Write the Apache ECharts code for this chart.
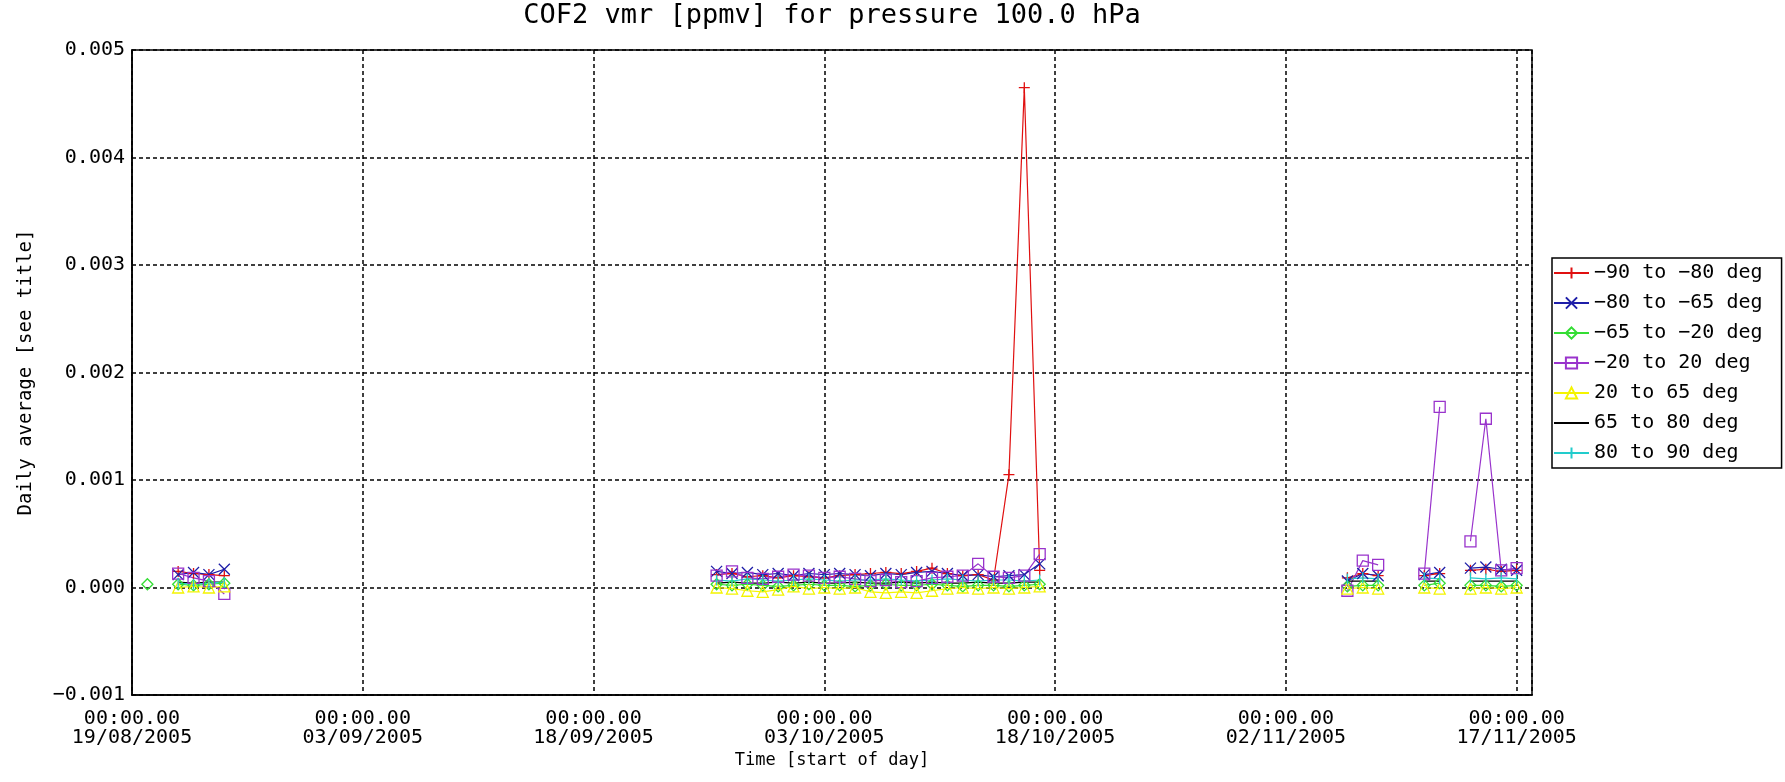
<!DOCTYPE html>
<html>
<head>
<meta charset="utf-8">
<title>COF2 vmr</title>
<script src="https://cdn.jsdelivr.net/npm/echarts@6/dist/echarts.min.js"></script>
<style>
    html, body { margin: 0; padding: 0; background: #fff; }
    #chart { width: 1785px; height: 782px; }
</style>
</head>
<body>
<div id="chart"></div>
<script type="text/javascript">
// days after 19/08/2005 (null columns break the lines between the data blocks)
var days = [1, 2, 3, 4, 5, 6, 7,
    38, 39, 40, 41, 42, 43, 44, 45, 46, 47, 48, 49, 50, 51, 52, 53, 54, 55, 56, 57, 58, 59, 60,
    79, 80, 81, 82, 84, 85, 86, 87, 88, 89, 90];

var tickDates = ['19/08/2005', '03/09/2005', '18/09/2005', '03/10/2005', '18/10/2005', '02/11/2005', '17/11/2005'];

var bandNames = ['−90 to −80 deg', '−80 to −65 deg', '−65 to −20 deg', '−20 to 20 deg', '20 to 65 deg', '65 to 80 deg', '80 to 90 deg'];

var sp90_80 = [null, null, 0.00015, 0.00013, 0.00012, 0.00011, null,
    0.00012, 0.00013, 0.00010, 0.00011, 0.00009, 0.00011, 0.00010, 0.00009, 0.00011, 0.00012, 0.00013,
    0.00014, 0.00013, 0.00015, 0.00018, 0.00013, 0.00011, 0.00012, 0.00007, 0.00105, 0.00465, 0.00016, null,
    0.00009, 0.00013, 0.00011, null, 0.00011, 0.00013, null, 0.00016, 0.00017, 0.00015, 0.00016];
var sp80_65 = [null, null, 0.00012, 0.00014, 0.00012, 0.00017, null,
    0.00015, 0.00013, 0.00014, 0.00012, 0.00013, 0.00011, 0.00013, 0.00012, 0.00013, 0.00012, 0.00011,
    0.00013, 0.00012, 0.00014, 0.00015, 0.00013, 0.00011, 0.00012, 0.00010, 0.00011, 0.00012, 0.00022, null,
    0.00006, 0.00013, 0.00011, null, 0.00012, 0.00014, null, 0.00018, 0.00019, 0.00017, 0.00016];
var sp65_20 = [0.00003, null, 0.00003, 0.00002, 0.00003, 0.00004, null,
    0.00003, 0.00002, 0.00003, 0.00002, 0.00001, 0.00002, 0.00003, 0.00002, 0.00002, 0.00001, 0.00002,
    0.00003, 0.00002, 0.00002, 0.00003, 0.00002, 0.00001, 0.00002, 0.00002, 0.00001, 0.00002, 0.00003, null,
    0.00001, 0.00002, 0.00002, null, 0.00002, 0.00004, null, 0.00002, 0.00002, 0.00001, 0.00002];
var eq20_20 = [null, null, 0.00013, 0.00009, 0.00006, -0.00006, null,
    0.00011, 0.00015, 0.00009, 0.00008, 0.00010, 0.00012, 0.00011, 0.00009, 0.00010, 0.00008, 0.00006,
    0.00007, 0.00005, 0.00006, 0.00009, 0.00010, 0.00011, 0.00022, 0.00010, 0.00009, 0.00011, 0.00031, null,
    -0.00003, 0.00025, 0.00021, null, 0.00013, 0.00168, null, 0.00043, 0.00157, 0.00016, 0.00018];
var np20_65 = [null, null, 0.00000, 0.00001, 0.00000, 0.00001, null,
    0.00000, -0.00001, -0.00003, -0.00004, -0.00002, 0.00001, -0.00001, 0.00000, -0.00001, 0.00000, -0.00004,
    -0.00005, -0.00004, -0.00005, -0.00003, -0.00001, 0.00000, -0.00001, 0.00000, -0.00001, 0.00000, 0.00001, null,
    -0.00001, 0.00000, -0.00001, null, 0.00000, -0.00001, null, -0.00001, 0.00000, -0.00001, 0.00000];
var np65_80 = [null, null, 0.00005, 0.00004, 0.00005, 0.00005, null,
    0.00004, 0.00005, 0.00004, 0.00004, 0.00005, 0.00004, 0.00005, 0.00004, 0.00004, 0.00005, 0.00004,
    0.00004, 0.00005, 0.00004, 0.00005, 0.00004, 0.00004, 0.00005, 0.00004, 0.00004, 0.00005, 0.00005, null,
    0.00006, 0.00006, 0.00006, null, 0.00006, 0.00006, null, 0.00006, 0.00006, 0.00006, 0.00006];
var np80_90 = [null, null, 0.00004, 0.00003, 0.00004, 0.00005, null,
    0.00007, 0.00006, 0.00008, 0.00007, 0.00006, 0.00007, 0.00008, 0.00007, 0.00006, 0.00007, 0.00007,
    0.00008, 0.00007, 0.00006, 0.00007, 0.00008, 0.00007, 0.00006, 0.00007, 0.00007, 0.00006, 0.00007, null,
    0.00008, 0.00009, 0.00008, null, 0.00009, 0.00008, null, 0.00009, 0.00008, 0.00009, 0.00008];

var bandValues = [sp90_80, sp80_65, sp65_20, eq20_20, np20_65, np65_80, np80_90];
var bandColors = ['#e01010', '#1e1ea8', '#33dd33', '#9933cc', '#f4f400', '#000000', '#22cccc'];
var bandSymbols = [
    'path://M5 0L5 10M0 5L10 5',
    'path://M0 0L10 10M10 0L0 10',
    'path://M5 0L10 5L5 10L0 5Z',
    'path://M0 0L10 0L10 10L0 10Z',
    'path://M5 0L10 10L0 10Z',
    'none',
    'path://M5 0L5 10M0 0L0 0.01M10 10L10 9.99'
];

var FONT = 'DejaVu Sans Mono';

var chart = echarts.init(document.getElementById('chart'));

var series = bandNames.map(function (name, k) {
    return {
        name: name,
        type: 'line',
        data: days.map(function (d, i) { return [d, bandValues[k][i]]; }),
        symbol: bandSymbols[k],
        symbolSize: 11,
        showAllSymbol: true,
        connectNulls: false,
        lineStyle: { color: bandColors[k], width: 1.2 },
        itemStyle: { color: 'rgba(0,0,0,0)', borderColor: bandColors[k], borderWidth: 1.3 },
        emphasis: { disabled: true }
    };
});

// the line-only band gets a plain line in the legend
var legendData = bandNames.map(function (name, k) {
    if (bandSymbols[k] === 'none') {
        return { name: name, icon: 'path://M0 7L35 7M0 0L0 0.01M35 14L35 13.99' };
    }
    return name;
});

chart.setOption({
    animation: false,
    backgroundColor: '#fff',
    title: {
        text: 'COF2 vmr [ppmv] for pressure 100.0 hPa',
        left: 832,
        top: 2,
        padding: 0,
        textAlign: 'center',
        textStyle: { fontFamily: FONT, fontSize: 27, fontWeight: 'normal', color: '#000' }
    },
    legend: {
        orient: 'vertical',
        left: 1552,
        top: 258,
        padding: [5, 19, 5, 1],
        itemWidth: 35,
        itemHeight: 14,
        itemGap: 10,
        borderColor: '#000',
        borderWidth: 1.5,
        textStyle: { fontFamily: FONT, fontSize: 20, lineHeight: 20, color: '#000' },
        data: legendData
    },
    grid: {
        left: 132, right: 253, top: 50, bottom: 87,
        show: true, borderColor: '#000', borderWidth: 1.5,
        outerBoundsMode: 'none'
    },
    xAxis: {
        type: 'value',
        min: 0, max: 91, interval: 15,
        name: 'Time [start of day]',
        nameLocation: 'middle',
        nameGap: 54,
        nameTextStyle: { fontFamily: FONT, fontSize: 17, color: '#000' },
        axisLine: { onZero: false, lineStyle: { color: '#000', width: 1.5 } },
        axisTick: { show: false },
        axisLabel: {
            showMaxLabel: false,
            margin: 14,
            fontFamily: FONT, fontSize: 20, lineHeight: 19, color: '#000',
            formatter: function (v) {
                var d = tickDates[Math.round(v / 15)];
                return d ? '00:00.00\n' + d : '';
            }
        },
        splitLine: { show: true, lineStyle: { color: '#000', type: [4, 3], width: 1.5 } }
    },
    yAxis: {
        type: 'value',
        min: -0.001, max: 0.005, interval: 0.001,
        name: 'Daily average [see title]',
        nameLocation: 'middle',
        nameGap: 96,
        nameTextStyle: { fontFamily: FONT, fontSize: 19, color: '#000' },
        axisLine: { show: true, lineStyle: { color: '#000', width: 1.5 } },
        axisTick: { show: false },
        axisLabel: {
            margin: 7,
            fontFamily: FONT, fontSize: 20, color: '#000',
            formatter: function (v) { return v.toFixed(3).replace('-', '−'); }
        },
        splitLine: { show: true, lineStyle: { color: '#000', type: [4, 3], width: 1.5 } }
    },
    series: series
});
</script>
</body>
</html>
